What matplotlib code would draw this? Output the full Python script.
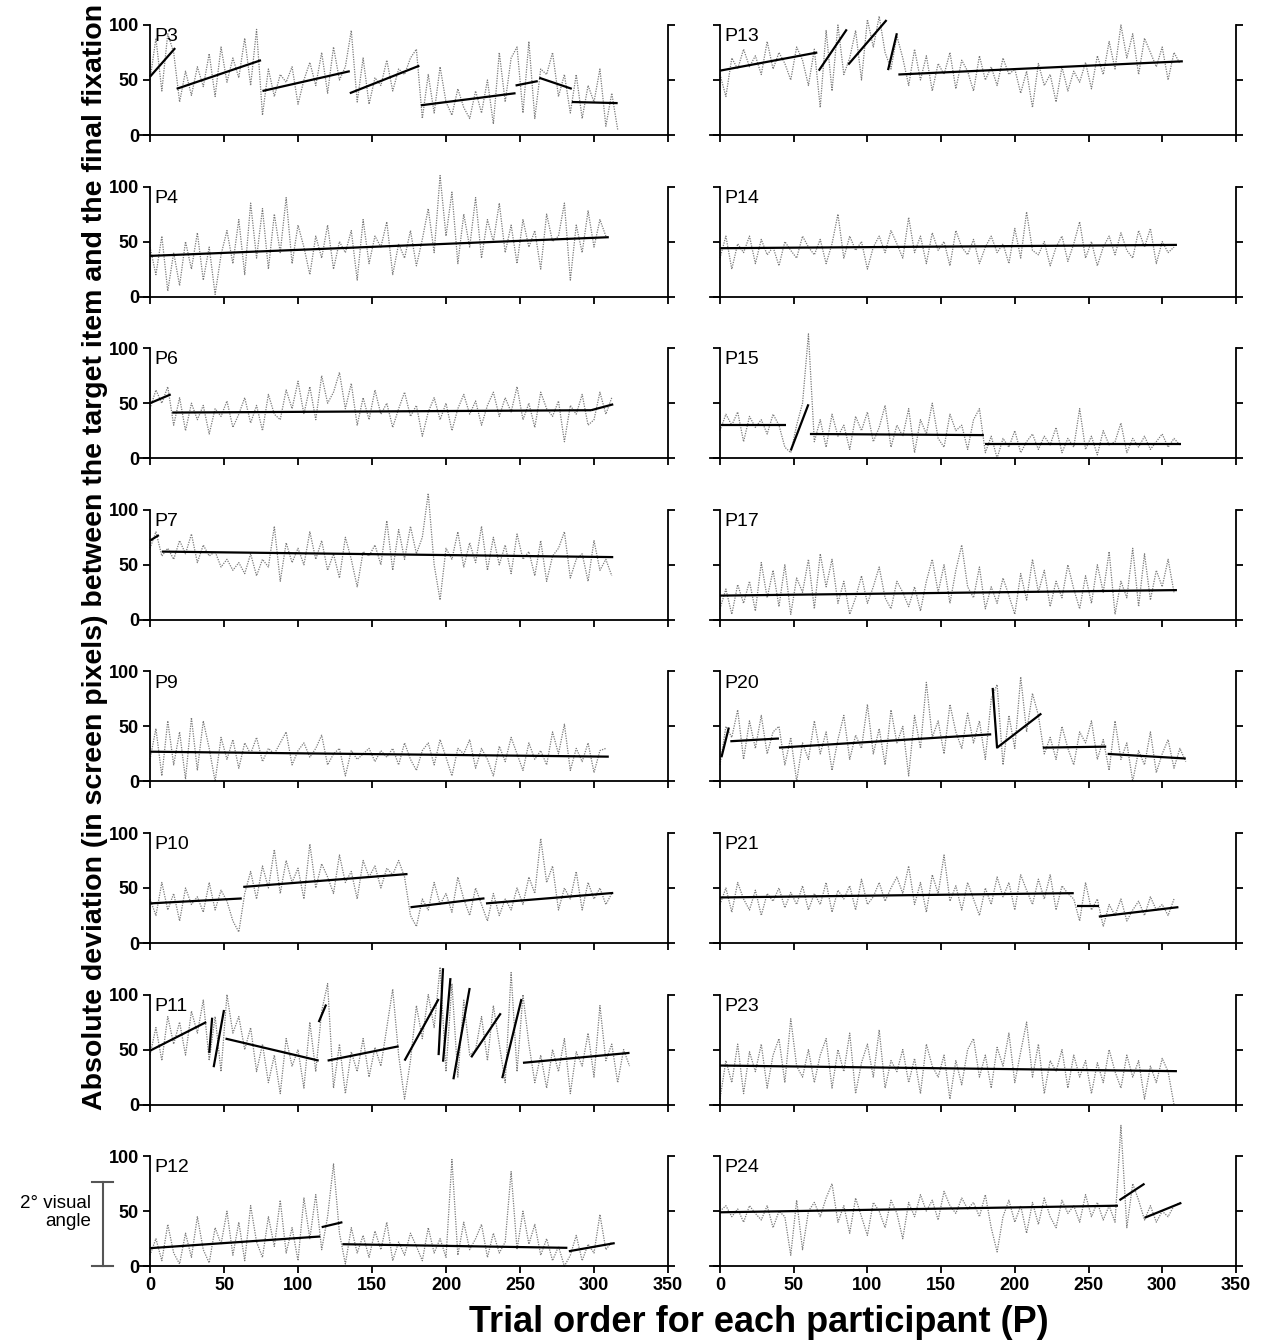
import numpy as np
import matplotlib.pyplot as plt

plt.rcParams['font.family'] = ['Liberation Sans', 'DejaVu Sans']

# one reading every 4 trials, starting at trial 0
STEP = 4

# ---- raw deviations (px) ----
p3_vals = [50, 88, 40, 92, 75,
           30, 58, 36, 62, 44, 74, 35, 80, 48, 70, 52, 88, 45, 96,
           18, 60, 35, 55, 48, 62, 28, 50, 66, 45, 75, 38, 80, 50, 62,
           95, 30, 70, 28, 52, 45, 68, 40, 60, 55, 70, 78,
           15, 55, 20, 62, 30, 18, 42, 25, 15, 40, 20, 50, 10, 75, 30, 70,
           80, 20, 85, 15, 60, 55, 75, 35, 55,
           20, 55, 15, 45, 30, 60, 8, 38, 5]
p4_vals = [45, 20, 55, 5, 40, 10, 50, 25, 58, 15, 45, 2, 38,
           60, 30, 70, 20, 85, 35, 80, 25, 75, 40, 90, 30, 65,
           45, 20, 55, 35, 65, 25, 50, 40, 60, 15, 70, 30, 55, 45, 68, 20, 48, 35, 60, 28, 52,
           80, 40, 110, 55, 95, 30, 75, 45, 90, 35, 70, 50, 85, 40,
           65, 30, 70, 45, 60, 25, 75, 50, 55, 85, 15, 65, 40, 78, 45, 70, 55]
p6_vals = [45, 62, 50, 65,
           30, 55, 25, 50, 35, 48, 22, 45, 38, 52, 28, 40, 55, 32, 48, 25, 58, 40, 35, 62, 45,
           70, 40, 65, 35, 75, 50, 60, 78, 45, 68, 30,
           55, 35, 62, 40, 50, 28, 45, 60, 38, 48, 20, 42, 55, 35, 50, 25, 45, 58, 40, 52,
           30, 48, 60, 38, 55, 42, 65, 35, 50, 28, 60, 45, 38, 52, 15, 48, 40, 58, 30,
           35, 60, 40, 55]
p7_vals = [65, 80,
           58, 65, 55, 72, 60, 78, 52, 68, 58, 62, 48, 55, 45, 52,
           42, 60, 40, 55, 48, 85, 35, 70, 52, 65, 50, 80, 55, 72, 45,
           60, 38, 75, 55, 30, 62, 58, 68, 50, 90, 45, 82, 55, 85, 60,
           75, 115, 50, 18, 65, 55, 80, 48, 70, 52, 85, 45, 75, 50, 68,
           42, 78, 55, 62, 40, 72, 35, 58, 65, 80, 38, 55, 60, 35, 72, 45, 55, 40]
p9_vals = [20, 48, 5, 55, 15, 45, 2, 58, 10, 55, 30, 0, 40,
           20, 38, 12, 35, 25, 40, 18, 30, 25, 35, 45, 15, 28,
           35, 22, 30, 42, 15, 25, 30, 5, 28, 20, 25, 30, 18, 28, 22,
           30, 15, 35, 20, 10, 28, 35, 15, 38, 22, 5, 30, 25, 38, 12,
           30, 20, 5, 32, 18, 40, 25, 10, 35, 20, 28, 15, 45, 25, 52, 10, 30, 18, 35, 8, 28, 30]
p10_vals = [40, 25, 55, 30, 45, 20, 50, 35, 42, 28, 55, 30, 48, 38, 20, 10,
            45, 65, 40, 70, 50, 85, 45, 75, 55, 68, 40, 90, 50, 72, 60, 45, 80, 55, 65, 40,
            75, 60, 70, 50, 68, 62, 75, 60,
            25, 15, 40, 30, 55, 35, 45, 28, 60, 40, 25, 50, 35,
            20, 45, 25, 40, 30, 50, 35, 60, 45, 95, 55, 70, 30, 50, 40, 65, 30, 55, 40, 50, 35, 45]
p11_vals = [45, 70, 40, 80, 55, 75, 45, 85, 65, 95,
            40, 80, 30,
            100, 65, 80, 50, 70, 30, 55, 20, 45, 10, 60, 35, 50, 15, 75, 30,
            85,
            110, 15, 55, 10, 48, 30, 60, 25, 52, 35, 70, 105, 45,
            5, 40, 90, 60, 100, 70, 125,
            30, 110, 25, 95, 45,
            50, 80, 40, 90, 55,
            20, 120, 30, 100,
            55, 20, 45, 15, 50, 30, 60, 10, 48, 35, 65, 25, 90, 40, 55, 20, 50, 35]
p12_vals = [10, 25, 5, 38, 12, 2, 30, 8, 45, 15, 3, 35, 20, 50, 10, 40, 5, 55, 22, 8,
            45, 18, 60, 12, 35, 5, 62, 25, 65,
            15, 45, 93, 30,
            2, 35, 12, 28, 8, 32, 15, 40, 5, 22, 10, 30, 18, 5, 35, 12, 25, 8,
            97,
            10, 40, 15, 25, 38, 8, 30, 12, 22,
            86,
            15, 50, 20, 38, 10, 25, 5, 18, 0,
            10, 28, 5, 20, 12, 47, 15, 22]
p13_vals = [55, 35, 70, 60, 78, 62, 72, 55, 85, 60, 75, 65, 50, 80, 68, 45, 78,
            25, 95, 40, 100, 55,
            70, 95, 50, 105, 80, 108, 75,
            60, 90,
            70, 45, 78, 50, 72, 40, 65, 55, 75, 42, 68, 58, 40, 72, 50, 62, 45, 70, 55, 60,
            38, 58, 25, 65, 45, 55, 30, 62, 40, 58, 48, 66, 42, 72, 55,
            85, 60, 100, 70, 92, 55, 88, 75, 62, 80, 50, 75, 65]
p14_vals = [35, 55, 25, 48, 40, 55, 30, 52, 38, 45, 28, 50, 42, 35, 55, 45,
            38, 52, 30, 48, 75, 35, 55, 42, 50, 25, 45, 55, 40, 60, 48,
            35, 72, 40, 55, 30, 58, 42, 50, 28, 60, 45, 38, 52, 30, 45,
            55, 40, 48, 30, 62, 35, 77, 42, 38, 50, 28, 45, 55, 32, 48,
            68, 35, 50, 28, 45, 55, 38, 58, 42, 35, 60, 45, 62, 30, 50, 40, 45]
p15_vals = [25, 40, 30, 42, 15, 38, 28, 35, 22, 40, 30, 10,
            5, 30, 50, 113,
            15, 35, 10, 40, 20, 30, 8, 38, 25, 42, 15, 28, 48, 10, 30, 20, 45, 5, 35, 22,
            50, 18, 10, 40, 25, 30, 8, 35, 45,
            5, 20, 0, 18, 10, 25, 5, 15, 22, 8, 20, 12, 28, 5, 18, 10, 45, 8, 20, 3,
            25, 12, 15, 32, 5, 18, 10, 20, 8, 15, 22, 10, 18, 12]
p17_vals = [10, 28, 5, 32, 15, 35, 8, 52, 20, 45, 12, 50, 5, 38, 25, 55,
            10, 60, 30, 55, 15, 35, 5, 20, 40, 15, 30, 48, 20, 10, 35,
            25, 12, 30, 8, 35, 55, 25, 50, 15, 45, 68, 30, 20, 48, 10,
            30, 15, 38, 22, 5, 42, 18, 55, 25, 45, 12, 35, 20, 50, 28,
            10, 40, 15, 50, 25, 62, 5, 35, 20, 65, 12, 60, 18, 45, 30, 55, 25]
p20_vals = [15, 50,
            40, 65, 20, 55, 30, 60, 25, 45,
            50, 15, 40, 0, 35, 20, 55, 25, 45, 10, 38, 60, 20, 42, 30, 70, 25, 48, 15, 65,
            35, 50, 5, 60, 30, 90, 40, 55, 25, 70, 45, 30, 62, 35, 55, 20, 75,
            88, 15, 60, 30, 95, 45, 80, 60,
            25, 40, 20, 50, 30, 15, 45, 35, 55, 20, 38,
            10, 55, 20, 35, 0, 28, 15, 45, 8, 25, 38, 12, 30, 18]
p21_vals = [35, 50, 28, 55, 40, 30, 48, 25, 45, 38, 50, 32, 46, 35, 52, 30,
            45, 35, 55, 28, 48, 40, 52, 30, 58, 35, 42, 55, 38, 50, 60,
            45, 70, 35, 55, 28, 62, 45, 80, 38, 52, 30, 55, 40, 25, 50,
            35, 60, 42, 55, 30, 62, 48, 35, 58, 40, 62, 30, 52, 45, 40,
            20, 55, 30, 40,
            15, 35, 25, 40, 20, 30, 38, 25, 42, 30, 35, 25, 40]
p23_vals = [5, 40, 20, 55, 10, 48, 30, 55, 15, 45, 60, 20, 78, 35, 25, 50,
            20, 45, 60, 15, 50, 30, 65, 10, 38, 55, 25, 68, 15, 40, 30,
            50, 20, 42, 10, 55, 35, 25, 45, 5, 40, 18, 50, 60, 25, 45,
            15, 52, 35, 65, 20, 48, 75, 25, 55, 10, 40, 30, 50, 15, 45,
            25, 40, 10, 38, 20, 50, 30, 15, 45, 25, 40, 5, 35, 20, 42, 30, 0]
p24_vals = [50, 55, 45, 52, 40, 55, 48, 42, 55, 35, 50, 45, 10, 60, 15, 50,
            58, 45, 62, 75, 40, 55, 30, 62, 45, 28, 58, 50, 35, 60, 48,
            25, 58, 45, 65, 50, 60, 42, 68, 55, 48, 62, 52, 58, 45, 65,
            35, 13, 45, 60, 40, 55, 30, 58, 38, 62, 45, 35, 60, 48, 55,
            40, 65, 45, 58, 42, 55, 40,
            128,
            35, 75, 60,
            42, 55, 40, 50, 45, 55, 58]

# ---- piecewise regression fits: (x start, x end, y start, y end) ----
p3_fits = [(0, 17, 53, 79), (18, 75, 42, 68), (76, 135, 40, 58), (135, 182, 38, 63),
           (183, 247, 27, 38), (247, 262, 45, 49), (263, 285, 52, 42), (285, 316, 30, 29)]
p4_fits = [(0, 310, 37, 54)]
p6_fits = [(0, 14, 50, 58), (15, 298, 41.5, 43.6), (298, 313, 43.6, 49)]
p7_fits = [(0, 6, 72, 77), (8, 313, 62, 57)]
p9_fits = [(0, 310, 27, 22.5)]
p10_fits = [(0, 62, 36, 40.5), (63, 174, 51, 62.7), (176, 226, 32.5, 40.6), (227, 313, 36, 45.5)]
p11_fits = [(0, 38, 49, 75), (40, 42, 47, 79), (43, 50, 34, 86), (51, 114, 60, 40),
            (114, 119, 75, 91), (120, 168, 40, 53), (172, 195, 40, 96), (195, 198, 45, 124),
            (198, 203, 39, 115), (205, 216, 23, 106), (217, 237, 43, 83), (238, 251, 24, 96),
            (252, 324, 38, 47)]
p12_fits = [(0, 115, 16.4, 27), (116, 130, 35.5, 40), (130, 282, 20, 16.7), (283, 314, 13.6, 21)]
p13_fits = [(0, 66, 58.5, 75), (67, 86, 58.5, 96), (87, 113, 64, 104.5), (114, 120, 59, 92.5),
            (121, 314, 55, 67)]
p14_fits = [(0, 310, 44, 47)]
p15_fits = [(1, 45, 30, 30), (48, 60, 7, 49), (61, 179, 22, 21), (180, 313, 13, 13)]
p17_fits = [(0, 310, 22, 27)]
p20_fits = [(1, 6, 22, 49), (7, 40, 36.5, 39), (40, 184, 30.7, 42.8), (185, 188, 85, 30),
            (188, 218, 30.7, 61.7), (219, 262, 30.7, 31.6), (263, 316, 25, 20.8)]
p21_fits = [(0, 240, 41.4, 45.3), (242, 257, 34, 34), (257, 311, 24, 32.6)]
p23_fits = [(0, 310, 35.5, 30.4)]
p24_fits = [(0, 270, 49, 55), (271, 288, 60, 75), (288, 313, 44, 57.6)]

left_panels = [('P3', p3_vals, p3_fits), ('P4', p4_vals, p4_fits), ('P6', p6_vals, p6_fits),
               ('P7', p7_vals, p7_fits), ('P9', p9_vals, p9_fits), ('P10', p10_vals, p10_fits),
               ('P11', p11_vals, p11_fits), ('P12', p12_vals, p12_fits)]
right_panels = [('P13', p13_vals, p13_fits), ('P14', p14_vals, p14_fits), ('P15', p15_vals, p15_fits),
                ('P17', p17_vals, p17_fits), ('P20', p20_vals, p20_fits), ('P21', p21_vals, p21_fits),
                ('P23', p23_vals, p23_fits), ('P24', p24_vals, p24_fits)]

W, H = 1263, 1341
fig = plt.figure(figsize=(W / 100, H / 100), dpi=100)

# pixel geometry of the grid: x=0 position and px per trial for each column
col_x0 = [150, 720]
col_scale = [1.48, 1.474]
XMIN = -7


def draw_panel(ax, name, vals, fits, col, bottom_row):
    x = np.arange(len(vals)) * STEP
    ax.plot(x, vals, color='#7a7a7a', lw=0.9, linestyle=(0, (1, 1)), clip_on=False)
    for x0, x1, y0, y1 in fits:
        ax.plot([x0, x1], [y0, y1], color='black', lw=1.6, clip_on=False,
                solid_capstyle='butt')
    ax.set_xlim(XMIN, 350)
    ax.set_ylim(0, 100)
    ax.spines['top'].set_visible(False)
    ax.spines['left'].set_position(('data', 0))
    ax.spines['left'].set_bounds(0, 100)
    ax.spines['right'].set_bounds(0, 100)
    for s in ['left', 'right', 'bottom']:
        ax.spines[s].set_linewidth(1.3)
    ax.set_xticks(range(0, 351, 50))
    ax.set_yticks([0, 50, 100])
    ax.tick_params(axis='both', direction='out', length=5, width=1.3, pad=3,
                   labelsize=13)
    ax.tick_params(axis='y', left=True, right=True, labelleft=(col == 0), labelright=False)
    ax.tick_params(axis='x', labelbottom=bottom_row)
    for lab in ax.get_xticklabels() + ax.get_yticklabels():
        lab.set_fontweight('bold')
    ax.text(3, 97, name, ha='left', va='top', fontsize=14)


for col, panels in enumerate([left_panels, right_panels]):
    for row, (name, vals, fits) in enumerate(panels):
        y0_px = 135 + 161.6 * row
        left_px = col_x0[col] + XMIN * col_scale[col]
        width_px = (350 - XMIN) * col_scale[col]
        ax = fig.add_axes([left_px / W, 1 - y0_px / H, width_px / W, 110 / H])
        draw_panel(ax, name, vals, fits, col, row == len(panels) - 1)
        if col == 0 and row == len(panels) - 1:
            # 2 degree visual angle scale bar
            ax.plot([-32, -32], [0, 77], color='#555555', lw=1.5, clip_on=False)
            ax.plot([-39, -25], [0, 0], color='#555555', lw=1.5, clip_on=False)
            ax.plot([-39, -25], [77, 77], color='#555555', lw=1.5, clip_on=False)
            ax.text(-40, 49, '2\u00b0 visual\nangle', ha='right', va='center',
                    fontsize=13.5, linespacing=1.05)

fig.text(95 / W, 1 - 557 / H,
         'Absolute deviation (in screen pixels) between the target item and the final fixation',
         rotation=90, ha='center', va='center', fontsize=20.5, fontweight='bold')
fig.text(759 / W, 1 - 1322 / H, 'Trial order for each participant (P)',
         ha='center', va='center', fontsize=26, fontweight='bold')

fig.savefig('out.png', dpi=100)
